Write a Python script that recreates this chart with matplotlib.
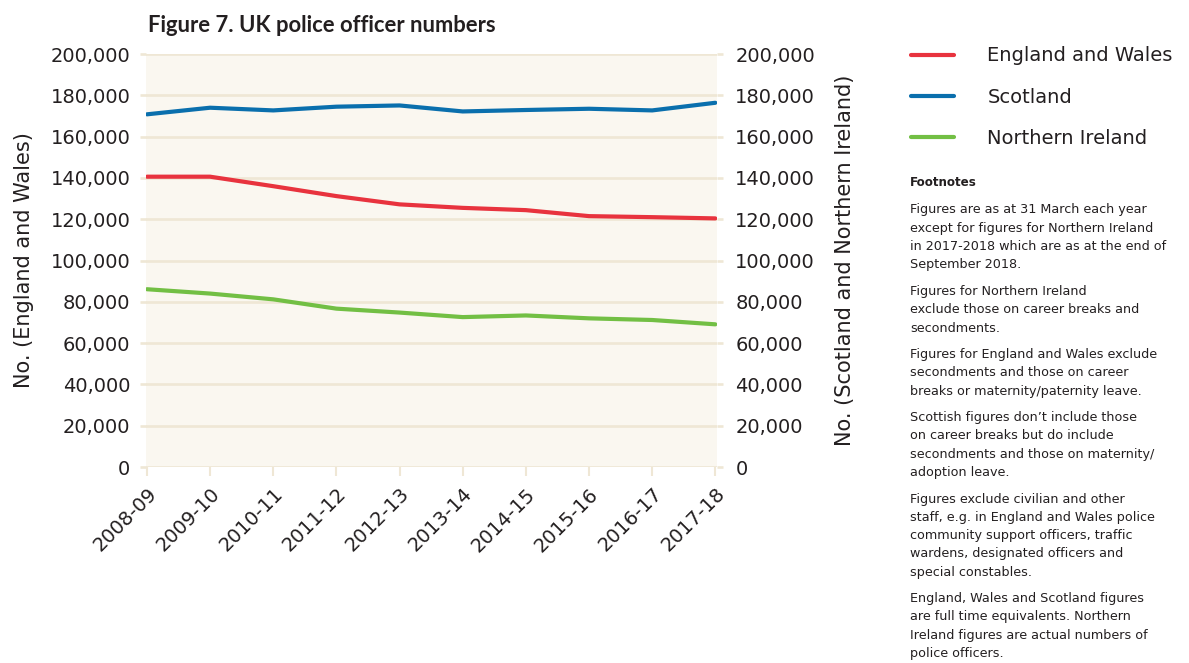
import numpy as np
import matplotlib
matplotlib.use("Agg")
import matplotlib.pyplot as plt
from matplotlib.ticker import FuncFormatter, MultipleLocator

# police officer numbers by year
years = ["2008-09", "2009-10", "2010-11", "2011-12", "2012-13",
         "2013-14", "2014-15", "2015-16", "2016-17", "2017-18"]
england_wales = [140600, 140600, 136000, 131200, 127200, 125500, 124400, 121500, 121000, 120400]
scotland = [170800, 174000, 172700, 174500, 175100, 172200, 172900, 173500, 172700, 176400]
northern_ireland = [86100, 84000, 81200, 76700, 74800, 72600, 73400, 72000, 71200, 69100]

footnotes = [
    ["Figures are as at 31 March each year",
     "except for figures for Northern Ireland",
     "in 2017-2018 which are as at the end of",
     "September 2018."],
    ["Figures for Northern Ireland",
     "exclude those on career breaks and",
     "secondments."],
    ["Figures for England and Wales exclude",
     "secondments and those on career",
     "breaks or maternity/paternity leave."],
    ["Scottish figures don\u2019t include those",
     "on career breaks but do include",
     "secondments and those on maternity/",
     "adoption leave."],
    ["Figures exclude civilian and other",
     "staff, e.g. in England and Wales police",
     "community support officers, traffic",
     "wardens, designated officers and",
     "special constables."],
    ["England, Wales and Scotland figures",
     "are full time equivalents. Northern",
     "Ireland figures are actual numbers of",
     "police officers."],
]

text_col = "#231f20"
grid_col = "#efe7d5"
red = "#e8333e"
blue = "#0a6fad"
green = "#72bf44"

plt.rcParams['font.family'] = ['DejaVu Sans']

fig = plt.figure(figsize=(11.89, 6.63), dpi=100)
ax = fig.add_axes([0.1225, 0.2956, 0.4802, 0.6229])
ax.set_facecolor("#faf7f0")

x = np.arange(len(years))
ax.plot(x, england_wales, color=red, lw=3, solid_capstyle='round', label="England and Wales", zorder=3)
ax.plot(x, scotland, color=blue, lw=3, solid_capstyle='round', label="Scotland", zorder=3)
ax.plot(x, northern_ireland, color=green, lw=3, solid_capstyle='round', label="Northern Ireland", zorder=3)

ax.set_xlim(-0.02, 9.02)
ax.set_ylim(0, 200000)
ax.yaxis.set_major_locator(MultipleLocator(20000))
fmt = FuncFormatter(lambda v, p: f"{int(v):,}")
ax.yaxis.set_major_formatter(fmt)
ax.grid(axis='y', color=grid_col, lw=1.9, zorder=1)
ax.set_axisbelow(True)

ax.set_xticks(x)
ax.set_xticklabels(years, rotation=45, ha='right', rotation_mode='anchor')
ax.tick_params(axis='x', length=6.5, width=1.5, color=grid_col, labelsize=14,
               labelcolor=text_col, pad=6)
ax.tick_params(axis='y', length=4, width=1.9, color=grid_col, labelsize=14,
               labelcolor=text_col, pad=7)
for s in ax.spines.values():
    s.set_visible(False)

ax2 = ax.twinx()
ax2.set_ylim(0, 200000)
ax2.yaxis.set_major_locator(MultipleLocator(20000))
ax2.yaxis.set_major_formatter(fmt)
ax2.tick_params(axis='y', length=4.5, width=1.9, color=grid_col, labelsize=14,
                labelcolor=text_col, pad=9)
for s in ax2.spines.values():
    s.set_visible(False)

ax.set_ylabel("No. (England and Wales)", fontsize=15, color=text_col, labelpad=12)
ax2.set_ylabel("No. (Scotland and Northern Ireland)", fontsize=15, color=text_col, labelpad=14)

fig.text(148 / 1189, 1 - 25 / 663, "Figure 7. UK police officer numbers", fontsize=15.8,
         fontweight='bold', family=['Lato', 'DejaVu Sans'], color=text_col,
         va='center', ha='left')

fig.legend(loc='upper left', bbox_to_anchor=(893 / 1189, 1 - 29 / 663), frameon=False,
           fontsize=14, handlelength=2.25, handletextpad=1.7, labelspacing=1.15,
           labelcolor=text_col)

# footnotes block
fx = 910 / 1189
fig.text(fx, 1 - 183 / 663, "Footnotes", fontsize=8.6, fontweight='bold', color=text_col, va='center')
y = 210
for para in footnotes:
    for line in para:
        fig.text(fx, 1 - y / 663, line, fontsize=9.2, color=text_col, va='center')
        y += 18.3
    y += 8.2

fig.savefig("out.png", dpi=100)
